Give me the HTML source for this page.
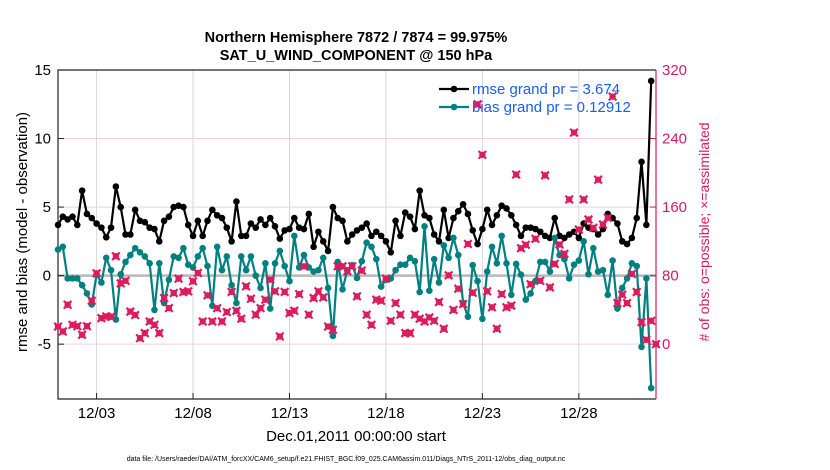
<!DOCTYPE html>
<html><head><meta charset="utf-8"><style>
html,body{margin:0;padding:0;background:#fff;}
svg{display:block;font-family:"Liberation Sans",sans-serif;}
</style></head><body>
<svg id="chart" width="830" height="470" viewBox="0 0 830 470" xmlns="http://www.w3.org/2000/svg">
<text x="356" y="42" text-anchor="middle" font-size="14.5" font-weight="bold">Northern Hemisphere 7872 / 7874 = 99.975%</text>
<text x="356" y="60" text-anchor="middle" font-size="14.5" font-weight="bold">SAT_U_WIND_COMPONENT @ 150 hPa</text>
<g id="grid"></g>
<g id="axes"></g>
<g id="series"></g>
<text transform="translate(27,232) rotate(-90)" text-anchor="middle" font-size="15">rmse and bias (model - observation)</text>
<text transform="translate(709,232) rotate(-90)" text-anchor="middle" font-size="14" fill="#d81b60"># of obs: o=possible; ×=assimilated</text>
<text x="356" y="441" text-anchor="middle" font-size="15">Dec.01,2011 00:00:00 start</text>
<text x="346" y="461" text-anchor="middle" font-size="7">data file: /Users/raeder/DAI/ATM_forcXX/CAM6_setup/f.e21.FHIST_BGC.f09_025.CAM6assim.011/Diags_NTrS_2011-12/obs_diag_output.nc</text>
</svg>
<script>
const xTickLabels = ["12/03","12/08","12/13","12/18","12/23","12/28"];
const xTickDays = [2,7,12,17,22,27];
const leftTicks = [15,10,5,0,-5];
const rightTicks = [320,240,160,80,0];
const rmse = [3.7,4.3,4.1,4.3,3.7,6.2,4.5,4.2,3.8,3.5,
 2.8,3.5,6.5,5.0,3.0,3.0,4.8,4.0,3.9,3.5,3.4,
 2.5,4.0,4.3,5.0,5.1,5.0,3.7,2.9,4.0,2.9,4.0,4.8,4.4,4.2,3.5,2.5,5.4,2.9,2.9,3.8,
 3.5,4.1,3.7,4.2,3.6,2.7,3.3,3.4,4.2,3.5,3.4,4.5,2.1,3.2,2.5,1.8,5.0,4.2,4.0,2.5,
 3.0,3.3,3.5,3.8,2.9,3.2,2.9,2.5,1.7,4.0,2.9,4.6,4.3,3.4,6.2,4.4,4.2,3.0,2.5,4.8,
 2.75,4.2,4.7,5.2,4.5,3.3,2.3,3.4,4.8,3.7,4.4,5.1,4.9,4.4,3.7,2.9,3.5,3.5,3.4,3.2,2.9,
 2.75,4.2,2.9,2.75,3.0,3.2,2.75,3.8,3.5,3.4,3.0,3.4,4.5,4.2,3.8,2.5,2.3,2.75,4.2,8.3,3.7,14.2,null];
const bias = [1.9,2.1,-0.2,-0.2,-0.2,-0.7,-1.3,-2.1,0.1,-0.5,1.3,0.4,-3.2,0.1,1.0,1.5,2.0,1.7,1.4,0.9,-2.5,
 0.9,-2.0,-0.3,1.4,1.3,2.0,0.8,0.6,1.4,2.0,0.7,-2.2,2.1,0.4,1.4,-0.7,-2.0,1.4,0.4,1.4,
 0,-0.9,0.9,-2.4,0.9,1.8,0.7,-0.4,2.9,0.6,1.5,0.6,0.3,0.4,1.3,-0.9,-4.4,1.0,-1.0,0.4,
 0.76,-0.17,1.05,2.4,2.1,1.2,-0.8,-0.3,-0.2,0.4,0.8,0.8,1.3,1.05,-1.2,3.6,-1.1,1.2,-0.5,2.2,
 1.3,2.75,1.5,-2.0,-3.0,0.76,-0.4,-3.15,0.3,2.1,0.9,2.9,0.9,-1.4,0.85,0.07,-1.75,-1.3,-0.4,1.0,1.0,
 0.3,2.75,1.5,1.2,-0.2,0.8,1.1,2.5,0.1,2.0,0.3,0.4,-1.4,1.1,-2.4,-0.9,-0.2,0.9,0.7,-5.2,-0.2,-8.2,null];
const obsCount = [20.6,14.8,46,22.6,21,11,21,50.7,82.7,30.4,32.4,32,102.6,71,74,38,34,7,12.9,26.5,22.6,
 12.9,53.9,42.1,59.7,76.5,60.9,61.7,73.4,83.1,26.5,57,26.5,42,26.5,37.5,61,39,29.7,67.5,53,
 34.4,42.1,51.9,75.3,61.7,9,61,36.3,39,58.5,90.9,34.4,53.9,61.7,54.6,20.6,16.8,90.9,90.9,85,
 90.9,55.8,85.9,34.4,22.6,51.9,50.7,76.5,27.3,48,34.4,12.9,12.9,34.4,29.7,26.5,31.2,27.3,49.2,18,
 80.4,40,64.8,46.8,117,60,280,221,61.7,43,18,58.5,43,45,198,112,116,70,123,74,197,
 66.3,93.7,116.3,105.4,168.9,247,133.8,168.9,145.5,135.8,192,139.7,147.5,289,48,57.8,48,82,60.9,25.8,5.1,27.3,0];

const NS='http://www.w3.org/2000/svg';
const L=58,R=656,T=70,B=399;
const yMin=-9,yMax=15, rMin=-64,rMax=320, days=31;
const xI=i=>L+(R-L)*i/(obsCount.length-1);
const xD=d=>L+(R-L)*d/days;
const yL=v=>B-(v-yMin)/(yMax-yMin)*(B-T);
const yR=v=>B-(v-rMin)/(rMax-rMin)*(B-T);
function mk(tag,attrs,parent){const e=document.createElementNS(NS,tag);for(const k in attrs)e.setAttribute(k,attrs[k]);parent.appendChild(e);return e;}
const grid=document.getElementById('grid'),axes=document.getElementById('axes'),series=document.getElementById('series');

xTickDays.forEach((d,k)=>{
  const g=mk('line',{x1:xD(d),x2:xD(d),y1:T,y2:B,stroke:'#d8d8d8','stroke-width':1},grid);
  
  
  const t=mk('line',{x1:xD(d),x2:xD(d),y1:B,y2:B-6,stroke:'#222','stroke-width':1},axes);
  
  
  const lb=mk('text',{x:xD(d),y:B+19,'text-anchor':'middle','font-size':15},axes);
  lb.textContent=xTickLabels[k];
  
  
});
rightTicks.forEach(v=>{
  if(v===80)return;
  const g=mk('line',{x1:L,x2:R,y1:yR(v),y2:yR(v),stroke:'#f5cfdc','stroke-width':1},grid);
  
  
});
const z=mk('line',{x1:L,x2:R,y1:yL(0),y2:yL(0),stroke:'#b8b8b8','stroke-width':2.5},grid);



leftTicks.forEach(v=>{
  const t=mk('line',{x1:L,x2:L+6,y1:yL(v),y2:yL(v),stroke:'#222'},axes);
  
  
  const lb=mk('text',{x:L-7,y:yL(v)+5,'text-anchor':'end','font-size':15},axes);
  lb.textContent=v;
  
  
});
rightTicks.forEach(v=>{
  const t=mk('line',{x1:R-6,x2:R,y1:yR(v),y2:yR(v),stroke:'#d81b60'},axes);
  
  
  const lb=mk('text',{x:R+6,y:yR(v)+5,'text-anchor':'start','font-size':15,fill:'#d81b60'},axes);
  lb.textContent=v;
  
  
});
const fr=mk('path',{d:`M${R},${T}H${L}V${B}H${R}`,fill:'none',stroke:'#222','stroke-width':1.2},axes);


const ra=mk('line',{x1:R,x2:R,y1:T,y2:B,stroke:'#d81b60','stroke-width':1.2},axes);



function line(arr,color,name){
  let d='';arr.forEach((v,i)=>{if(v===null)return;d+=(d?'L':'M')+xI(i).toFixed(1)+','+yL(v).toFixed(1);});
  const p=mk('path',{d,fill:'none',stroke:color,'stroke-width':2.2,'stroke-linejoin':'round'},series);
  
  
  arr.forEach((v,i)=>{if(v===null)return;
    const c=mk('circle',{cx:xI(i),cy:yL(v),r:3.3,fill:color},series);
    
    
  });
}
line(rmse,'#000','rmse');
line(bias,'#008080','bias');

// legend
const lg=mk('g',{},series);


[['#000','rmse grand pr = 3.674',89],['#008080','bias grand pr = 0.12912',107]].forEach(([c,t,y])=>{
  const l=mk('line',{x1:439,x2:469,y1:y,y2:y,stroke:c,'stroke-width':2.2},lg);
  
  
  const m=mk('circle',{cx:454,cy:y,r:3.3,fill:c},lg);
  
  
  const tx=mk('text',{x:472,y:y+5,'font-size':15,fill:'#1a5cff'},lg);
  tx.textContent=t;
  
  
});

obsCount.forEach((v,i)=>{
  const x=xI(i),y=yR(v);
  const g=mk('g',{},series);
  
  
  mk('circle',{cx:x,cy:y,r:3.2,fill:'#dc1c5c'},g);
  mk('path',{d:`M${x-3.8},${y-3.8}L${x+3.8},${y+3.8}M${x-3.8},${y+3.8}L${x+3.8},${y-3.8}`,stroke:'#dc1c5c','stroke-width':2.2},g);
});
</script>
</body></html>
